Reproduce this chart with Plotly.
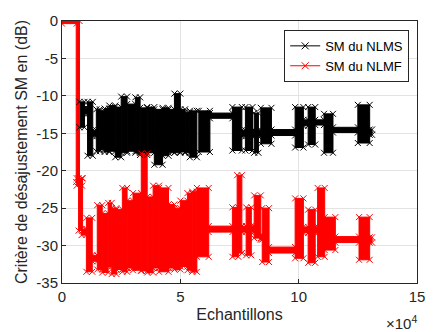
import plotly.graph_objects as go

# Segment data: x start, x end (in 1e4 samples), upper and lower level (dB)
nlms_x0 = [0.74, 0.95, 1.08, 1.30, 1.45, 1.6, 1.8, 2.0, 2.25, 2.5, 2.75, 3.1, 3.3, 3.6, 3.9, 4.25, 4.5, 4.75, 5.0, 5.2, 5.4, 5.78,
           6.25, 7.2, 7.6, 7.75, 8.05, 8.12, 8.3, 8.4, 8.85, 9.85, 10.2, 10.4, 10.7, 11.07, 11.45, 12.5, 13.0]
nlms_x1 = [0.95, 1.08, 1.30, 1.45, 1.6, 1.8, 2.0, 2.25, 2.5, 2.75, 3.1, 3.3, 3.6, 3.9, 4.25, 4.5, 4.75, 5.0, 5.2, 5.4, 5.7, 6.25,
           7.2, 7.6, 7.75, 8.05, 8.12, 8.3, 8.4, 8.85, 9.85, 10.2, 10.4, 10.7, 11.07, 11.45, 12.5, 13.0, 13.1]
nlms_hi = [-10.8, -11.7, -10.8, -14.6, -11.8, -12.0, -11.7, -11.3, -11.5, -10.1, -11.1, -10.2, -11.6, -11.5, -11.8, -11.6, -11.8, -9.7, -11.8, -12.2, -12.0, -12.0,
           -12.3, -11.5, -14.6, -11.5, -14.6, -12.3, -14.6, -11.6, -14.5, -11.5, -13.2, -11.5, -13.2, -12.4, -14.2, -11.2, -14.5]
nlms_lo = [-14.2, -12.4, -18.0, -15.4, -17.4, -17.2, -17.5, -17.4, -18.2, -17.6, -17.4, -17.6, -17.9, -17.6, -19.2, -18.0, -17.6, -17.6, -17.5, -17.6, -18.2, -17.5,
           -13.0, -17.3, -15.4, -17.3, -15.4, -17.6, -15.4, -16.4, -15.3, -16.9, -14.0, -16.5, -13.9, -17.6, -14.9, -16.3, -15.2]

nlmf_x0 = [0.0, 0.60, 0.62, 0.70, 0.83, 1.03, 1.28, 1.49, 1.7, 1.95, 2.1, 2.3, 2.55, 2.75, 3.0, 3.35, 3.6, 3.85, 4.1, 4.5, 4.75, 5.0, 5.3, 5.5,
           5.7, 6.2, 7.2, 7.4, 7.6, 7.78, 8.0, 8.12, 8.4, 8.46, 8.75, 9.85, 10.2, 10.4, 10.7, 10.8, 11.1, 11.55, 12.55, 13.0]
nlmf_x1 = [0.62, 0.74, 0.85, 0.87, 1.03, 1.28, 1.49, 1.7, 1.95, 2.1, 2.3, 2.55, 2.75, 3.0, 3.35, 3.6, 3.85, 4.1, 4.5, 4.75, 5.0, 5.3, 5.5, 5.7,
           6.2, 7.2, 7.45, 7.6, 7.78, 8.0, 8.12, 8.4, 8.46, 8.75, 9.85, 10.2, 10.4, 10.7, 10.8, 11.1, 11.55, 12.55, 13.0, 13.1]
nlmf_hi = [0.35, 0.0, -21.0, -21.0, -27.8, -26.3, -31.3, -24.6, -25.7, -24.3, -25.0, -25.2, -22.3, -24.0, -23.0, -17.7, -23.5, -22.0, -22.3, -24.5, -25.0, -24.0, -23.0, -22.8,
           -22.3, -27.4, -24.9, -20.6, -27.4, -24.9, -27.4, -23.3, -28.6, -25.0, -30.2, -23.7, -27.5, -25.2, -27.5, -22.3, -26.2, -28.8, -26.2, -28.9]
nlmf_lo = [-0.35, -21.5, -22.0, -28.0, -28.6, -33.5, -32.1, -33.2, -33.6, -32.8, -33.8, -33.2, -33.5, -33.0, -33.3, -33.4, -33.6, -33.0, -33.5, -33.0, -33.2, -32.8, -33.3, -33.5,
           -31.5, -28.2, -31.5, -31.0, -28.2, -31.3, -28.2, -29.0, -29.2, -32.2, -31.0, -31.7, -28.3, -32.3, -28.3, -31.5, -30.6, -29.6, -31.9, -29.6]

series_names = ["SM du NLMS", "SM du NLMF"]
series_colors = ["#000000", "#ff0000"]
x_ticks = [0, 5, 10, 15]
y_ticks = [0, -5, -10, -15, -20, -25, -30, -35]

fig = go.Figure()
for (x0, x1, hi, lo), name, col in zip(
        [(nlms_x0, nlms_x1, nlms_hi, nlms_lo), (nlmf_x0, nlmf_x1, nlmf_hi, nlmf_lo)],
        series_names, series_colors):
    fig.add_trace(go.Bar(
        x=[(a + b) / 2 for a, b in zip(x0, x1)],
        width=[b - a for a, b in zip(x0, x1)],
        base=lo,
        y=[h - l for h, l in zip(hi, lo)],
        marker=dict(color=col, line=dict(color=col, width=1)),
        showlegend=False, hoverinfo="skip"))
    # x markers on the block corners, to give the ragged marker edge
    cx, cy = [], []
    for a, b, h, l in zip(x0, x1, hi, lo):
        cx += [a, b, a, b]
        cy += [h, h, l, l]
    fig.add_trace(go.Scatter(x=cx, y=cy, mode="markers", showlegend=False, hoverinfo="skip",
                             marker=dict(symbol="x-thin-open", size=6, color=col,
                                         line=dict(color=col, width=1))))
    fig.add_trace(go.Scatter(x=[None], y=[None], mode="lines+markers", name=name,
                             line=dict(color=col, width=1),
                             marker=dict(symbol="x-thin-open", size=7, color=col,
                                         line=dict(color=col, width=1))))

axis_col = "#262626"
fig.update_layout(
    width=437, height=332,
    margin=dict(l=62, r=12, t=20, b=49),
    paper_bgcolor="white", plot_bgcolor="white",
    barmode="overlay",
    font=dict(family="Liberation Sans, Arial, sans-serif", size=15, color=axis_col),
    showlegend=True,
    legend=dict(x=0.978, y=0.966, xanchor="right", yanchor="top",
                bgcolor="white", bordercolor=axis_col, borderwidth=1,
                font=dict(size=13, color="#000000"), tracegroupgap=0,
                itemwidth=30),
    xaxis=dict(range=[0, 15], tickvals=x_ticks, ticktext=[str(v) for v in x_ticks],
               showgrid=True, gridcolor="#e3e3e3", zeroline=False,
               showline=True, linecolor=axis_col, linewidth=1, mirror=True,
               ticks="inside", ticklen=4, tickcolor=axis_col,
               title=dict(text="Echantillons", standoff=4, font=dict(size=16))),
    yaxis=dict(range=[-35, 0], tickvals=y_ticks, ticktext=[str(v) for v in y_ticks],
               showgrid=True, gridcolor="#e3e3e3", zeroline=False,
               showline=True, linecolor=axis_col, linewidth=1, mirror=True,
               ticks="inside", ticklen=4, tickcolor=axis_col,
               title=dict(text="Critère de désajustement SM en (dB)", standoff=4, font=dict(size=16))),
    annotations=[dict(text="×10<sup>4</sup>", xref="paper", yref="paper", x=0.955, y=-0.15,
                      xanchor="center", yanchor="middle", showarrow=False,
                      font=dict(size=15, color=axis_col))],
)

fig.write_html("out.html")
